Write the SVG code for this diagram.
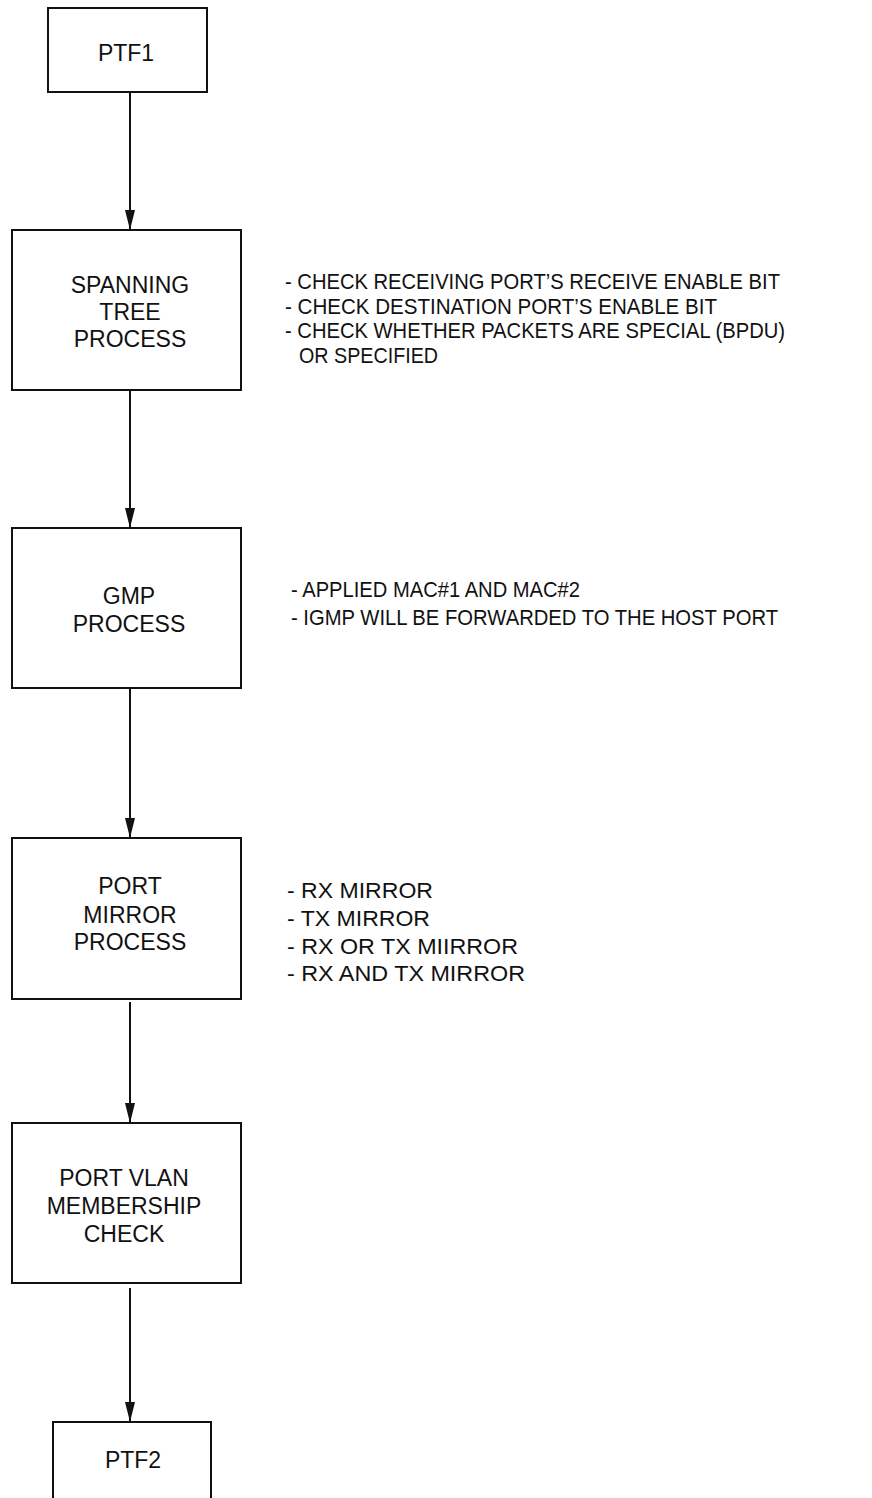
<svg xmlns="http://www.w3.org/2000/svg" width="872" height="1498" viewBox="0 0 872 1498">
  <style>
    .box { fill: #ffffff; stroke: #111111; stroke-width: 2; }
    .lbl { font-family: "Liberation Sans", Arial, sans-serif; font-size: 23px; fill: #111111; text-anchor: middle; }
    .note { font-family: "Liberation Sans", Arial, sans-serif; font-size: 22px; fill: #111111; }
    .conn { stroke: #111111; stroke-width: 2; fill: none; marker-end: url(#arrow); }
  </style>
  <defs>
    <marker id="arrow" markerUnits="userSpaceOnUse" viewBox="0 0 20 10" refX="20" refY="5" markerWidth="20" markerHeight="10" orient="auto">
      <path d="M0,0 L20,5 L0,10 z" fill="#111111"/>
    </marker>
  </defs>
  <rect width="872" height="1498" fill="#ffffff"/>

  <g id="connectors">
    <line class="conn" x1="130" y1="92" x2="130" y2="230"/>
    <line class="conn" x1="130" y1="390" x2="130" y2="528"/>
    <line class="conn" x1="130" y1="688" x2="130" y2="838"/>
    <line class="conn" x1="130" y1="1002" x2="130" y2="1123"/>
    <line class="conn" x1="130" y1="1288" x2="130" y2="1422"/>
  </g>

  <g id="ptf1">
    <rect class="box" x="48" y="8" width="159" height="84"/>
    <text class="lbl" x="126" y="61">PTF1</text>
  </g>

  <g id="spanning-tree">
    <rect class="box" x="12" y="230" width="229" height="160"/>
    <text class="lbl" x="130" y="293">SPANNING</text>
    <text class="lbl" x="130" y="320">TREE</text>
    <text class="lbl" x="130" y="347">PROCESS</text>
  </g>
  <g id="spanning-tree-notes">
    <text class="note" x="285" y="289" textLength="495" lengthAdjust="spacingAndGlyphs">- CHECK RECEIVING PORT’S RECEIVE ENABLE BIT</text>
    <text class="note" x="285" y="314" textLength="432" lengthAdjust="spacingAndGlyphs">- CHECK DESTINATION PORT’S ENABLE BIT</text>
    <text class="note" x="285" y="338" textLength="500" lengthAdjust="spacingAndGlyphs">- CHECK WHETHER PACKETS ARE SPECIAL (BPDU)</text>
    <text class="note" x="299" y="363" textLength="139" lengthAdjust="spacingAndGlyphs">OR SPECIFIED</text>
  </g>

  <g id="gmp">
    <rect class="box" x="12" y="528" width="229" height="160"/>
    <text class="lbl" x="129" y="604">GMP</text>
    <text class="lbl" x="129" y="632">PROCESS</text>
  </g>
  <g id="gmp-notes">
    <text class="note" x="291" y="597" textLength="289" lengthAdjust="spacingAndGlyphs">- APPLIED MAC#1 AND MAC#2</text>
    <text class="note" x="291" y="625" textLength="487" lengthAdjust="spacingAndGlyphs">- IGMP WILL BE FORWARDED TO THE HOST PORT</text>
  </g>

  <g id="port-mirror">
    <rect class="box" x="12" y="838" width="229" height="161"/>
    <text class="lbl" x="130" y="894">PORT</text>
    <text class="lbl" x="130" y="923">MIRROR</text>
    <text class="lbl" x="130" y="950">PROCESS</text>
  </g>
  <g id="port-mirror-notes">
    <text class="note" x="287" y="898" textLength="146" lengthAdjust="spacingAndGlyphs">- RX MIRROR</text>
    <text class="note" x="287" y="926" textLength="143" lengthAdjust="spacingAndGlyphs">- TX MIRROR</text>
    <text class="note" x="287" y="954" textLength="231" lengthAdjust="spacingAndGlyphs">- RX OR TX MIIRROR</text>
    <text class="note" x="287" y="981" textLength="238" lengthAdjust="spacingAndGlyphs">- RX AND TX MIRROR</text>
  </g>

  <g id="port-vlan">
    <rect class="box" x="12" y="1123" width="229" height="160"/>
    <text class="lbl" x="124" y="1186">PORT VLAN</text>
    <text class="lbl" x="124" y="1214">MEMBERSHIP</text>
    <text class="lbl" x="124" y="1242">CHECK</text>
  </g>

  <g id="ptf2">
    <rect class="box" x="53" y="1422" width="158" height="100"/>
    <text class="lbl" x="133" y="1468">PTF2</text>
  </g>
</svg>
